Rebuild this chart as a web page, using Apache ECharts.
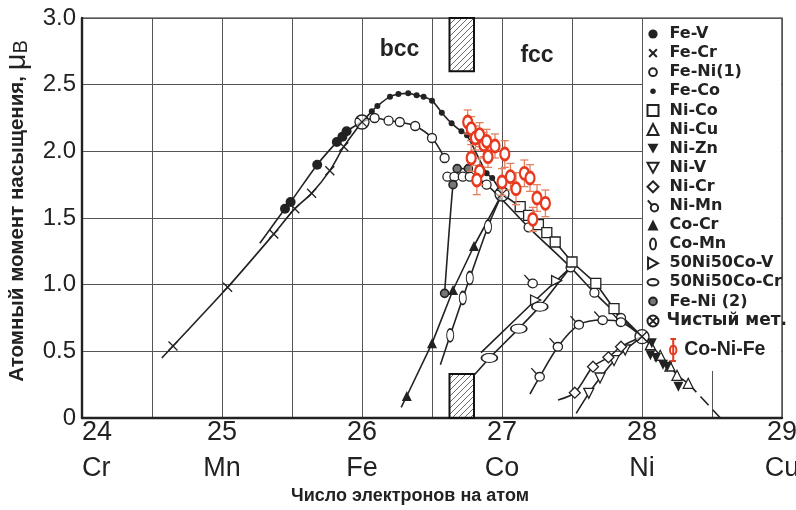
<!DOCTYPE html>
<html><head><meta charset="utf-8">
<script src="https://cdn.jsdelivr.net/npm/echarts@6/dist/echarts.min.js"></script>
<style>html,body{margin:0;padding:0;background:#fff}#c{width:796px;height:510px}</style>
</head><body><div id="c"></div>
<script>
// ---------- data ----------
const xTicks = [24, 25, 26, 27, 28, 29];
const elements = ['Cr', 'Mn', 'Fe', 'Co', 'Ni', 'Cu'];
const yTicks = [0, 0.5, 1.0, 1.5, 2.0, 2.5, 3.0];
// [x, y, marker(1) / line-only(0)]
const feV = [[25.27,1.31,0],[25.45,1.57,1],[25.49,1.62,1],[25.68,1.90,1],[25.82,2.07,1],[25.86,2.11,1],[25.89,2.15,1],[26.0,2.22,0]];
const feCr = [[24.57,0.45,0],[24.65,0.54,1],[25.04,0.98,1],[25.37,1.38,1],[25.52,1.57,1],[25.64,1.685,1],[25.77,1.855,1],[25.87,2.035,1],[26.0,2.22,0]];
const feNi1bcc = [[26.0,2.22,0],[26.09,2.25,1],[26.19,2.23,1],[26.27,2.22,1],[26.38,2.19,1],[26.50,2.10,1],[26.59,1.95,1]];
const feNi1fcc = [[26.61,1.81,1],[26.66,1.81,1],[26.72,1.81,1],[26.77,1.81,1],[26.89,1.75,1],[27.19,1.43,1],[27.49,1.13,1],[27.66,0.94,1],[27.85,0.75,1],[28.0,0.61,0]];
const feCo = [[26.0,2.22,0],[26.07,2.30,1],[26.11,2.34,1],[26.2,2.41,1],[26.26,2.43,1],[26.33,2.435,1],[26.39,2.42,1],[26.44,2.41,1],[26.5,2.38,1],[26.57,2.29,1],[26.64,2.21,1],[26.71,2.15,1],[26.75,2.12,1],[26.89,1.835,1],[26.93,1.80,1],[27.0,1.68,0]];
const niCo = [[27.0,1.68,0],[27.13,1.585,1],[27.19,1.52,1],[27.26,1.45,1],[27.32,1.39,1],[27.38,1.32,1],[27.50,1.17,1],[27.67,1.01,1],[27.80,0.82,1],[28.0,0.61,0]];
const niCu = [[28.0,0.61,0],[28.06,0.55,1],[28.13,0.47,1],[28.2,0.39,1],[28.25,0.32,1],[28.33,0.26,1]];
const niCuDash = [[28.33,0.26],[28.56,0.0]];
const niZn = [[28.07,0.56],[28.06,0.47],[28.10,0.45],[28.15,0.40],[28.18,0.385],[28.26,0.235]];
const niV = [[27.53,0.035,0],[27.62,0.185,1],[27.70,0.30,1],[27.80,0.43,1],[27.88,0.51,1],[28.0,0.61,0]];
const niCr = [[27.40,0.135,0],[27.52,0.19,1],[27.65,0.385,1],[27.76,0.455,1],[27.85,0.535,1],[28.0,0.61,0]];
const niMn = [[27.2,0.18,0],[27.27,0.31,1],[27.40,0.535,1],[27.55,0.70,1],[27.72,0.735,1],[27.85,0.72,1],[28.0,0.61,0]];
const niMnSingle = [[27.22,1.01]];
const coCr = [[26.28,0.08,0],[26.32,0.165,1],[26.50,0.56,1],[26.65,0.96,1],[26.80,1.29,1],[27.0,1.68,0]];
const coMn = [[26.56,0.40,0],[26.63,0.62,1],[26.72,0.90,1],[26.77,1.05,1],[26.90,1.435,1],[27.0,1.68,0]];
const nico50V = [[26.85,0.49,0],[27.24,0.885,1],[27.39,1.03,1],[27.49,1.13,0]];
const nico50Cr = [[26.80,0.32,0],[26.91,0.45,1],[27.12,0.67,1],[27.27,0.835,1],[27.49,1.13,0]];
const feNi2 = [[26.59,0.935,1],[26.65,1.75,1],[26.68,1.87,1],[26.76,1.87,1]];
const pureMetals = [[26.0,2.22],[27.0,1.68],[28.0,0.61]];
// [x, y, error]
const coNiFe = [[26.755,2.22,0.09],[26.78,2.17,0.09],[26.81,2.10,0.09],[26.84,2.125,0.09],[26.87,2.05,0.09],[26.89,2.075,0.09],[26.95,2.04,0.09],[27.02,1.98,0.1],[26.78,1.95,0.1],[26.90,1.96,0.08],[26.84,1.85,0.1],[26.82,1.785,0.11],[27.00,1.77,0.1],[27.06,1.81,0.1],[27.10,1.72,0.12],[27.16,1.835,0.1],[27.20,1.80,0.1],[27.25,1.65,0.1],[27.31,1.61,0.1],[27.22,1.49,0.09]];
const phaseX = [26.625, 26.80];
const hatchTop = [2.60, 3.0];
const hatchBottom = [0, 0.33];
const phaseLabels = [['bcc', 26.268, 2.76], ['fcc', 27.25, 2.715]];
const legendNames = ['Fe-V','Fe-Cr','Fe-Ni(1)','Fe-Co','Ni-Co','Ni-Cu','Ni-Zn','Ni-V','Ni-Cr','Ni-Mn','Co-Cr','Co-Mn','50Ni50Co-V','50Ni50Co-Cr','Fe-Ni (2)','Чистый мет.','Co-Ni-Fe'];

// ---------- styling ----------
const INK = '#222';
const RED = '#e8391f';
const FONT = "'Liberation Sans', Arial, sans-serif";
const LFONT = "'DejaVu Sans', 'Liberation Sans', sans-serif";
const P = {
  cross: 'path://M0,0L10,10M10,0L0,10',
  oval: 'path://M0,10A10,10 0 1,1 20,10A10,10 0 1,1 0,10Z',
  pure: 'path://M0,10A10,10 0 1,1 20,10A10,10 0 1,1 0,10Z M3,3L17,17M17,3L3,17',
  niMn: 'path://M6,12A5,5 0 1,1 16,12A5,5 0 1,1 6,12Z M7.5,8.5L2,2',
  cnf: 'path://M5,0L5,24M2,0L8,0M2,24L8,24M1.5,12A3.5,5 0 1,1 8.5,12A3.5,5 0 1,1 1.5,12Z',
  triDown: 'path://M0,0L10,0L5,9Z',
  triRight: 'path://M0,0L9,5L0,10Z',
  smallDot: 'path://M0,0M10,10M2.5,5A2.5,2.5 0 1,1 7.5,5A2.5,2.5 0 1,1 2.5,5Z',
  midCircle: 'path://M0,0M10,10M1.5,5A3.5,3.5 0 1,1 8.5,5A3.5,3.5 0 1,1 1.5,5Z',
  bigCircle: 'path://M0,0M10,10M0.8,5A4.2,4.2 0 1,1 9.2,5A4.2,4.2 0 1,1 0.8,5Z',
  crossIcon: 'path://M0,0M10,10M1.5,1.5L8.5,8.5M8.5,1.5L1.5,8.5',
  ovalIcon: 'path://M0,0M10,10M2.3,5A2.7,5 0 1,1 7.7,5A2.7,5 0 1,1 2.3,5Z',
  ovalHIcon: 'path://M0,0M10,10M-1,5A6,3.5 0 1,1 11,5A6,3.5 0 1,1 -1,5Z'
};

const pc = document.createElement('canvas');
pc.width = pc.height = 6;
const g = pc.getContext('2d');
g.strokeStyle = '#444'; g.lineWidth = 0.8;
g.beginPath(); g.moveTo(0,6); g.lineTo(6,0); g.moveTo(-1,1); g.lineTo(1,-1); g.moveTo(5,7); g.lineTo(7,5); g.stroke();

function pts(arr) {
  return arr.map(d => d[2] === 0 ? {value: [d[0], d[1]], symbol: 'none'} : {value: [d[0], d[1]]});
}
function lineSeries(name, arr, opts) {
  return Object.assign({
    type: 'line', name, data: pts(arr), smooth: 0.3, showAllSymbol: true,
    symbol: 'circle', symbolSize: 9,
    lineStyle: {color: INK, width: 1.6},
    itemStyle: {color: '#fff', borderColor: INK, borderWidth: 1.3},
    emphasis: {disabled: true}, z: 2
  }, opts);
}

const series = [
  {type: 'line', name: 'hatch', data: [], silent: true,
    markArea: {silent: true, itemStyle: {color: {image: pc, repeat: 'repeat'}, borderColor: '#111', borderWidth: 2},
      data: [[{coord: [phaseX[0], hatchTop[0]]}, {coord: [phaseX[1], hatchTop[1]]}],
             [{coord: [phaseX[0], hatchBottom[0]]}, {coord: [phaseX[1], hatchBottom[1]]}]]}},
  lineSeries('Fe-Cr', feCr, {symbol: P.cross, symbolSize: 9, itemStyle: {color: 'none', borderColor: INK, borderWidth: 1.3}}),
  lineSeries('Fe-V', feV, {symbolSize: 10, itemStyle: {color: INK, borderColor: INK, borderWidth: 0}}),
  lineSeries('Fe-Ni(1)', feNi1bcc, {symbolSize: 9}),
  lineSeries('Fe-Ni(1)', feNi1fcc, {symbolSize: 9}),
  lineSeries('Fe-Co', feCo, {symbolSize: 6, itemStyle: {color: INK, borderColor: INK, borderWidth: 0}}),
  lineSeries('Ni-Co', niCo, {smooth: false, symbol: 'rect', symbolSize: 10}),
  lineSeries('Ni-Cu', niCu, {smooth: false, symbol: 'triangle', symbolSize: 10}),
  {type: 'line', name: 'dash', data: niCuDash, symbol: 'none', lineStyle: {color: INK, width: 1.6, type: [12, 6]}, z: 2},
  {type: 'scatter', name: 'Ni-Zn', data: niZn, symbol: P.triDown, symbolSize: 10, itemStyle: {color: INK, opacity: 1}, z: 3},
  lineSeries('Ni-V', niV, {symbol: P.triDown, symbolSize: 10}),
  lineSeries('Ni-Cr', niCr, {symbol: 'diamond', symbolSize: 11}),
  lineSeries('Ni-Mn', niMn, {symbol: P.niMn, symbolSize: 13, symbolOffset: [-2, -2]}),
  {type: 'scatter', name: 'Ni-Mn', data: niMnSingle, symbol: P.niMn, symbolSize: 13, symbolOffset: [-2, -2],
    itemStyle: {color: '#fff', borderColor: INK, borderWidth: 1.3, opacity: 1}, z: 3},
  lineSeries('Co-Cr', coCr, {smooth: false, symbol: 'triangle', symbolSize: 10, itemStyle: {color: INK, borderColor: INK, borderWidth: 0}}),
  lineSeries('Co-Mn', coMn, {symbol: P.oval, symbolSize: [7, 13]}),
  lineSeries('50Ni50Co-V', nico50V, {smooth: false, symbol: P.triRight, symbolSize: 10}),
  lineSeries('50Ni50Co-Cr', nico50Cr, {smooth: false, symbol: P.oval, symbolSize: [16, 9]}),
  lineSeries('Fe-Ni (2)', feNi2, {smooth: 0.2, symbolSize: 8, itemStyle: {color: '#777', borderColor: INK, borderWidth: 1.6}}),
  {type: 'scatter', name: 'Чистый мет.', data: pureMetals, symbol: P.pure, symbolSize: 14,
    itemStyle: {color: 'rgba(255,255,255,0.6)', borderColor: INK, borderWidth: 1.3, opacity: 1}, z: 4},
  {type: 'custom', name: 'Co-Ni-Fe', data: coNiFe, encode: {x: 0, y: 1}, z: 5, silent: true,
    renderItem: function (params, api) {
      const x = api.value(0), y = api.value(1), e = api.value(2);
      const t = api.coord([x, y + e]), b = api.coord([x, y - e]);
      const st = {stroke: '#e4825f', lineWidth: 1.3};
      return {type: 'group', children: [
        {type: 'line', shape: {x1: t[0], y1: t[1], x2: b[0], y2: b[1]}, style: st},
        {type: 'line', shape: {x1: t[0] - 4, y1: t[1], x2: t[0] + 4, y2: t[1]}, style: st},
        {type: 'line', shape: {x1: b[0] - 4, y1: b[1], x2: b[0] + 4, y2: b[1]}, style: st}
      ]};
    }},
  {type: 'scatter', name: 'Co-Ni-Fe', data: coNiFe.map(d => [d[0], d[1]]), symbol: P.oval, symbolSize: [9, 12],
    itemStyle: {color: '#fff', borderColor: RED, borderWidth: 2.5, opacity: 1}, z: 6}
];

const legendItem = (name) => {
  const m = {
    'Fe-V': {icon: P.bigCircle}, 'Fe-Cr': {icon: P.crossIcon}, 'Fe-Ni(1)': {icon: P.midCircle}, 'Fe-Co': {icon: P.smallDot},
    'Ni-Co': {icon: 'rect'}, 'Ni-Cu': {icon: 'triangle'}, 'Ni-Zn': {icon: P.triDown}, 'Ni-V': {icon: P.triDown},
    'Ni-Cr': {icon: 'diamond'}, 'Ni-Mn': {icon: P.niMn}, 'Co-Cr': {icon: 'triangle'}, 'Co-Mn': {icon: P.ovalIcon},
    '50Ni50Co-V': {icon: P.triRight}, '50Ni50Co-Cr': {icon: P.ovalHIcon}, 'Fe-Ni (2)': {icon: P.midCircle},
    'Чистый мет.': {icon: P.pure, textStyle: {fontSize: 17, fontWeight: 'bold', padding: [0, 0, 0, 3]}},
    'Co-Ni-Fe': {icon: P.cnf}
  };
  return Object.assign({name}, m[name]);
};

const chart = echarts.init(document.getElementById('c'), null, {renderer: 'canvas'});
chart.setOption({
  animation: false,
  backgroundColor: '#fff',
  grid: {left: 82, right: 14, top: 18, bottom: 92, containLabel: false, outerBoundsMode: 'none',
    show: true, borderColor: INK, borderWidth: 1.2, backgroundColor: 'transparent'},
  xAxis: {
    type: 'value', min: 24, max: 29, interval: 0.5,
    axisLine: {show: true, onZero: false, lineStyle: {color: INK, width: 2.4}},
    axisTick: {show: false},
    splitLine: {show: true, lineStyle: {color: '#555', width: 1}},
    axisLabel: {
      margin: 0, alignMinLabel: 'left', color: INK, fontFamily: FONT,
      formatter: v => { const i = xTicks.indexOf(v); return i < 0 ? '' : '{n|' + v + '}\n{e|' + elements[i] + '}'; },
      rich: {n: {fontSize: 27, lineHeight: 30, fontFamily: FONT},
             e: {fontSize: 27, lineHeight: 42, fontFamily: FONT}}
    },
    name: 'Число электронов на атом', nameLocation: 'middle', nameGap: 66,
    nameTextStyle: {fontSize: 18, fontWeight: 'bold', color: INK, fontFamily: FONT, padding: [0, 44, 0, 0]}
  },
  yAxis: {
    type: 'value', min: 0, max: 3, interval: 0.5,
    axisLine: {show: true, lineStyle: {color: INK, width: 2.4}},
    axisTick: {show: false},
    splitLine: {show: true, lineStyle: {color: '#555', width: 1}},
    axisLabel: {margin: 6, fontSize: 24, color: INK, fontFamily: FONT,
      formatter: v => yTicks.indexOf(v) < 0 ? '' : (v === 0 ? '0' : v.toFixed(1))},
    name: '{a|Атомный момент насыщения, }{m|μ}{b|B}', nameLocation: 'middle', nameRotate: 90, nameGap: 50,
    nameTextStyle: {color: INK, fontFamily: FONT, padding: [0, 0, 0, 14], rich: {
      a: {fontSize: 20.5, fontWeight: 'bold', fontFamily: FONT, color: INK},
      m: {fontSize: 29, fontFamily: FONT, color: INK},
      b: {fontSize: 20, fontFamily: FONT, color: INK, padding: [9, 0, 0, 0]}
    }}
  },
  legend: [{
    orient: 'vertical', left: 645, top: 26, padding: 0, itemWidth: 11, itemHeight: 11, itemGap: 3.1, selectedMode: false,
    textStyle: {fontSize: 16, fontWeight: 'bold', color: INK, fontFamily: LFONT, padding: [0, 0, 0, 6]},
    data: legendNames.slice(0, 16).map(legendItem)
  }, {
    orient: 'vertical', left: 669, top: 338, padding: 0, itemWidth: 10, itemHeight: 22, selectedMode: false,
    itemStyle: {color: '#fff', borderColor: RED, borderWidth: 2},
    textStyle: {fontSize: 19.5, fontWeight: 'bold', color: INK, fontFamily: FONT, padding: [0, 0, 0, 1]},
    data: [legendItem('Co-Ni-Fe')]
  }],
  series
});

// white backdrop behind the legend region (covers grid lines only)
const p1 = chart.convertToPixel({gridIndex: 0}, [28, 3.0]);
const p2 = chart.convertToPixel({gridIndex: 0}, [29, 0.36]);
const graphics = [{type: 'rect', z: 1, silent: true, shape: {x: p1[0] + 1, y: p1[1] + 1, width: p2[0] - p1[0] - 2, height: p2[1] - p1[1]}, style: {fill: '#fff'}}];
phaseLabels.forEach(l => {
  const p = chart.convertToPixel({gridIndex: 0}, [l[1], l[2]]);
  graphics.push({type: 'text', z: 10, x: p[0], y: p[1], style: {text: l[0], fontSize: 23, fontWeight: 'bold', fill: INK, fontFamily: FONT, align: 'center', verticalAlign: 'middle'}});
});
chart.setOption({graphic: graphics});
</script></body></html>
